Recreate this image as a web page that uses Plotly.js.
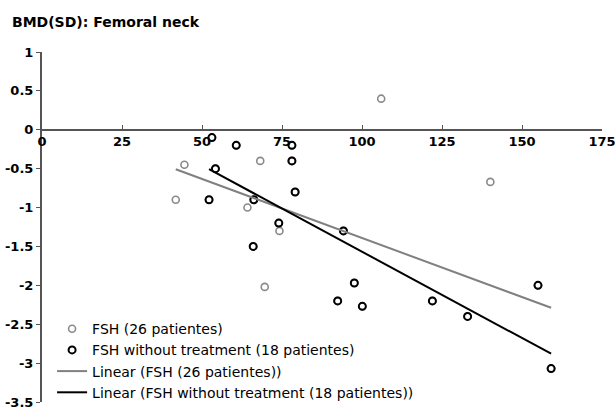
<!DOCTYPE html>
<html>
<head>
<meta charset="utf-8">
<script src="https://cdn.plot.ly/plotly-3.0.1.min.js"></script>
<style>html,body{margin:0;padding:0;background:#fff;}#chart{width:615px;height:407px;}</style>
</head>
<body>
<div id="chart"></div>
<script>
// FSH patients not in the "without treatment" subgroup (8 visible grey points)
var fshOnlyX = [41.8, 44.5, 68.2, 64.2, 74.2, 69.6, 106, 140.1];
var fshOnlyY = [-0.9, -0.45, -0.4, -1.0, -1.3, -2.02, 0.4, -0.67];
// FSH without treatment (18 patientes)
var untreatedX = [53.1, 60.7, 78.1, 54.2, 78.1, 79.1, 52.2, 66.2, 74.0, 66.0, 94.2, 97.6, 155, 92.4, 100.1, 122, 133, 159.1];
var untreatedY = [-0.1, -0.2, -0.2, -0.5, -0.4, -0.8, -0.9, -0.9, -1.2, -1.5, -1.3, -1.97, -2.0, -2.2, -2.27, -2.2, -2.4, -3.07];
// FSH (26 patientes) = all patients
var fshX = fshOnlyX.concat(untreatedX);
var fshY = fshOnlyY.concat(untreatedY);

var xTicks = [0, 25, 50, 75, 100, 125, 150, 175];
var yTicks = [1, 0.5, 0, -0.5, -1, -1.5, -2, -2.5, -3, -3.5];

var names = ["FSH (26 patientes)", "FSH without treatment (18 patientes)",
             "Linear (FSH (26 patientes))", "Linear (FSH without treatment (18 patientes))"];

function linFit(xs, ys) {
  var n = xs.length, sx = 0, sy = 0, sxx = 0, sxy = 0;
  for (var i = 0; i < n; i++) { sx += xs[i]; sy += ys[i]; sxx += xs[i]*xs[i]; sxy += xs[i]*ys[i]; }
  var b = (n*sxy - sx*sy) / (n*sxx - sx*sx);
  var a = (sy - b*sx) / n;
  var x0 = Math.min.apply(null, xs), x1 = Math.max.apply(null, xs);
  return {x: [x0, x1], y: [a + b*x0, a + b*x1]};
}
var fitAll = linFit(fshX, fshY);
var fitUnt = linFit(untreatedX, untreatedY);

var FONT = "'DejaVu Sans', Arial, sans-serif";
var GREY = "#8a8a8a";

var traces = [
  {x: fshX, y: fshY, type: "scatter", mode: "markers", name: names[0],
   marker: {symbol: "circle-open", size: 7, color: GREY, line: {width: 1.6, color: GREY}}},
  {x: untreatedX, y: untreatedY, type: "scatter", mode: "markers", name: names[1],
   marker: {symbol: "circle-open", size: 7, color: "#000", line: {width: 2, color: "#000"}}},
  {x: fitAll.x, y: fitAll.y, type: "scatter", mode: "lines", name: names[2],
   line: {color: "#808080", width: 2}},
  {x: fitUnt.x, y: fitUnt.y, type: "scatter", mode: "lines", name: names[3],
   line: {color: "#000", width: 2}}
];

var layout = {
  width: 615, height: 407,
  margin: {l: 42, r: 13, t: 52, b: 5, autoexpand: false},
  paper_bgcolor: "#fff", plot_bgcolor: "rgba(0,0,0,0)",
  font: {family: FONT, color: "#000"},
  title: {text: "BMD(SD): Femoral neck", font: {family: FONT, size: 14, weight: "bold", color: "#000"},
          x: 12/615, xref: "container", xanchor: "left", y: 1 - 22/407, yref: "container", yanchor: "middle"},
  xaxis: {range: [0, 175], tickvals: xTicks, ticktext: xTicks.map(String),
          anchor: "free", position: 3.5/4.5, automargin: false, ticklabeloverflow: "allow",
          showline: true, linecolor: "#555", linewidth: 2, showgrid: false, zeroline: false,
          ticks: "inside", ticklen: 4, tickwidth: 1, tickcolor: "#555",
          tickfont: {family: FONT, size: 13, weight: "bold", color: "#000"}},
  yaxis: {range: [-3.5, 1], tickvals: yTicks, ticktext: yTicks.map(String), automargin: false,
          ticklabeloverflow: "allow",
          showline: true, linecolor: "#555", linewidth: 2, showgrid: false, zeroline: false,
          ticks: "outside", ticklen: 4, tickwidth: 1, tickcolor: "#555",
          tickfont: {family: FONT, size: 13, weight: "bold", color: "#000"}},
  showlegend: true,
  legend: {x: 0.018, xanchor: "left", y: 0.254, yanchor: "top", bgcolor: "rgba(0,0,0,0)",
           font: {family: FONT, size: 14, color: "#000"}, traceorder: "normal"}
};

Plotly.newPlot("chart", traces, layout, {displayModeBar: false, staticPlot: true});
</script>
</body>
</html>
